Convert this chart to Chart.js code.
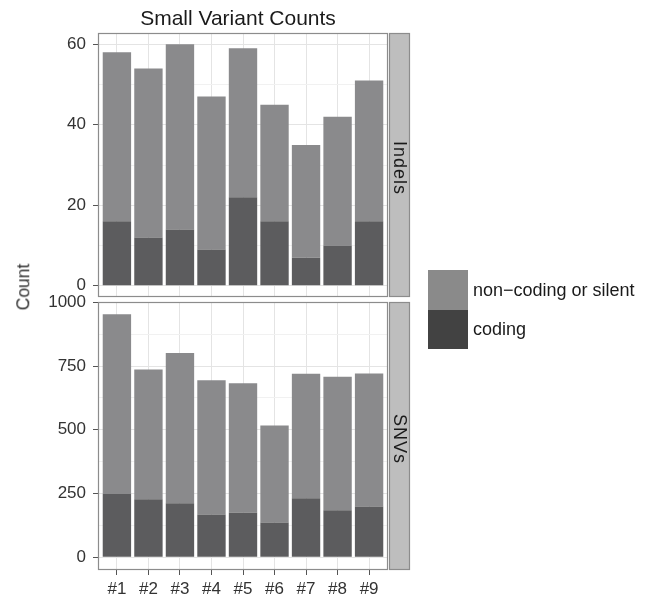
<!DOCTYPE html>
<html>
<head>
<meta charset="utf-8">
<script src="https://cdn.jsdelivr.net/npm/chart.js@4.4.1/dist/chart.umd.min.js"></script>
<style>
    html, body { margin: 0; padding: 0; background: #fff; }
    #wrap { position: relative; width: 654px; height: 598px; font-family: "Liberation Sans", Arial, sans-serif; color: #222; }
    #wrap canvas { position: absolute; left: 0; top: 0; }
    .lbl { position: absolute; white-space: nowrap; line-height: 1; }
    #title { left: 238px; top: 6.5px; font-size: 21px; transform: translateX(-50%); color: #1a1a1a; }
    #ylab { left: 23.5px; top: 287px; font-size: 17.5px; transform: translate(-50%, -50%) rotate(-90deg); color: #333; }
    #legend { position: absolute; left: 428px; top: 270px; }
    .leg-row { display: flex; align-items: center; height: 39.5px; }
    .leg-key { width: 40px; height: 39.5px; }
    .leg-text { margin-left: 5px; font-size: 18px; line-height: 1; color: #1a1a1a; }
</style>
</head>
<body>
<div id="wrap">
    <canvas id="indels" width="654" height="598"></canvas>
    <canvas id="snvs" width="654" height="598"></canvas>
    <div class="lbl" id="title">Small Variant Counts</div>
    <div class="lbl" id="ylab">Count</div>
    <div id="legend"></div>
</div>
<script>
// ===== DATOS =====
const samples = ['#1', '#2', '#3', '#4', '#5', '#6', '#7', '#8', '#9'];
const seriesNames = ['coding', 'non−coding or silent'];

const indelCoding    = [16, 12, 14, 9, 22, 16, 7, 10, 16];
const indelNonCoding = [42, 42, 46, 38, 37, 29, 28, 32, 35];

const snvCoding    = [248, 227, 212, 168, 175, 136, 231, 184, 199];
const snvNonCoding = [705, 509, 589, 526, 507, 381, 489, 524, 522];

const indelTicks = [0, 20, 40, 60];
const indelMinor = [10, 30, 50];
const snvTicks   = [0, 250, 500, 750, 1000];
const snvMinor   = [125, 375, 625, 875];

// ===== ESTILOS =====
const FONT = '"Liberation Sans", Arial, sans-serif';
const BAR_COLORS = ['#5c5c5e', '#8a8a8c'];
const KEY_COLORS = ['#424242', '#8a8a8a'];
const GRID_MAJOR = '#e4e4e4';
const GRID_MINOR = '#f1f1f1';
const BORDER = '#8c8c8c';
const STRIP_FILL = '#bebebe';
const TXT = '#333333';

// fondo blanco del panel, borde y tira lateral con el nombre de la faceta
const panelDecor = {
    id: 'panelDecor',
    beforeDraw(chart) {
        const { ctx, chartArea: a } = chart;
        ctx.save();
        ctx.fillStyle = '#fff';
        ctx.fillRect(a.left, a.top, a.width, a.height);
        ctx.restore();
    },
    afterDraw(chart, args, opts) {
        const { ctx, chartArea: a } = chart;
        ctx.save();
        ctx.strokeStyle = BORDER;
        ctx.lineWidth = 1.2;
        ctx.strokeRect(a.left + 0.5, a.top + 0.5, a.width - 1, a.height - 1);

        const sx = a.right + 1, sw = 21;
        ctx.fillStyle = STRIP_FILL;
        ctx.fillRect(sx, a.top, sw, a.height);
        ctx.strokeRect(sx + 0.5, a.top + 0.5, sw - 1, a.height - 1);

        ctx.translate(sx + sw / 2, (a.top + a.bottom) / 2 + 3);
        ctx.rotate(Math.PI / 2);
        ctx.fillStyle = '#1a1a1a';
        ctx.font = `18px ${FONT}`;
        ctx.letterSpacing = '1px';
        ctx.textAlign = 'center';
        ctx.textBaseline = 'middle';
        ctx.fillText(opts.label, 0, 1);
        ctx.restore();
    }
};

function makePanel(id, strip, coding, nonCoding, major, minor, yMin, yMax, pad, showX) {
    const allTicks = major.concat(minor).sort((p, q) => p - q);
    const isMinor = ctx => ctx.tick && minor.includes(ctx.tick.value);

    return new Chart(document.getElementById(id), {
        type: 'bar',
        data: {
            datasets: [coding, nonCoding].map((vals, k) => ({
                label: seriesNames[k],
                data: vals.map((v, i) => ({ x: i + 1, y: v })),
                backgroundColor: BAR_COLORS[k],
                borderWidth: 0,
                barPercentage: 0.9,
                categoryPercentage: 1,
            }))
        },
        options: {
            responsive: false,
            animation: false,
            events: [],
            layout: { padding: pad },
            plugins: {
                legend: { display: false },
                tooltip: { enabled: false },
                panelDecor: { label: strip },
            },
            scales: {
                x: {
                    type: 'linear',
                    min: 0.4,
                    max: 9.6,
                    offset: false,
                    stacked: true,
                    afterBuildTicks: s => { s.ticks = samples.map((c, i) => ({ value: i + 1 })); },
                    afterFit: s => { s.height = showX ? 28 : 0; },
                    ticks: {
                        display: showX,
                        autoSkip: false,
                        maxRotation: 0,
                        padding: 4,
                        color: TXT,
                        font: { family: FONT, size: 17 },
                        callback: v => samples[v - 1],
                    },
                    grid: { offset: false, color: GRID_MAJOR, drawTicks: showX, tickLength: 5, tickColor: '#555' },
                    border: { display: false },
                },
                y: {
                    stacked: true,
                    min: yMin,
                    max: yMax,
                    afterBuildTicks: s => { s.ticks = allTicks.map(v => ({ value: v })); },
                    afterFit: s => { s.width = 98; },
                    ticks: {
                        autoSkip: false,
                        padding: 7,
                        color: TXT,
                        font: { family: FONT, size: 17 },
                        callback: v => major.includes(v) ? String(v) : '',
                    },
                    grid: {
                        color: ctx => isMinor(ctx) ? GRID_MINOR : GRID_MAJOR,
                        tickColor: ctx => isMinor(ctx) ? 'rgba(0,0,0,0)' : '#555',
                        tickLength: 5,
                    },
                    border: { display: false },
                }
            }
        },
        plugins: [panelDecor]
    });
}

// panel superior: área 98..388 x 33..297
makePanel('indels', 'Indels', indelCoding, indelNonCoding, indelTicks, indelMinor, -2.8, 62.8,
    { left: 0, top: 33, right: 266, bottom: 301 }, false);

// panel inferior: área 98..388 x 302..570
makePanel('snvs', 'SNVs', snvCoding, snvNonCoding, snvTicks, snvMinor, -50, 1001,
    { left: 0, top: 302, right: 266, bottom: 0 }, true);

// ===== LEYENDA =====
document.getElementById('legend').innerHTML = [1, 0].map(k => `
    <div class="leg-row">
        <div class="leg-key" style="background:${KEY_COLORS[k]}"></div>
        <div class="leg-text">${seriesNames[k]}</div>
    </div>`).join('');
</script>
</body>
</html>
